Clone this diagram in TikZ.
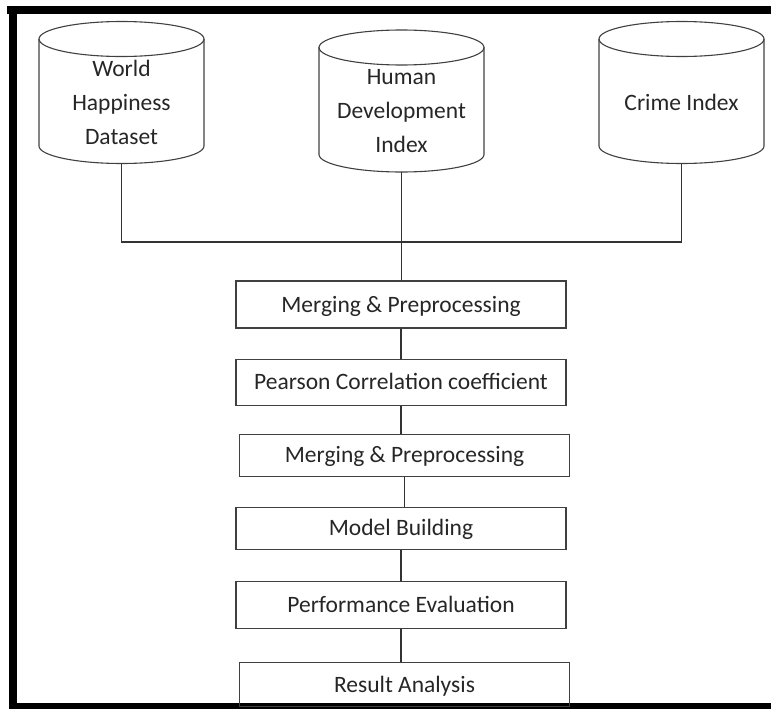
\documentclass[tikz,border=0pt]{standalone}
\usepackage{fontspec}
\setmainfont{Carlito}
\usepackage{tikz}
\usetikzlibrary{positioning}

\begin{document}
\begin{tikzpicture}[x=1pt,y=-1pt,
      dbline/.style={draw=black!75,line width=1.1pt},
      dbtext/.style={align=center,font=\fontsize{23.5}{34}\selectfont,text=black!85},
      stage/.style={rectangle,draw=black!75,line width=1.1pt,minimum width=330pt,inner sep=0pt,
        text height=15pt,text depth=0pt,font=\fontsize{23.5}{28}\selectfont,text=black!85},
      link/.style={draw=black!80,line width=1.1pt}]

      \useasboundingbox (0,0) rectangle (771,709);
      % frame
      \fill (7,6) rectangle (771,14);
      \fill (9,6) rectangle (17,709);
      \fill (9,703) rectangle (771,709);

      % data sources
      \foreach \n/\cx/\cy/\txt in {db1/121.5/92.5/{World\\Happiness\\Dataset},
                                   db2/401.5/101/{Human\\Development\\Index},
                                   db3/681.5/92.5/{Crime Index}} {
        \draw[dbline] (\cx,\cy-53.5) ellipse [x radius=82.5,y radius=17.5];
        \draw[dbline] (\cx-82.5,\cy-53.5) -- (\cx-82.5,\cy+53.5)
          arc [start angle=180,end angle=0,x radius=82.5,y radius=17.5] -- (\cx+82.5,\cy-53.5);
        \node[dbtext] (\n text) at (\cx,\cy+10) {\txt};
        \coordinate (\n) at (\cx,\cy+71);
      }

      % pipeline
      \node[stage,minimum height=47pt] (s1) at (401,304.5) {Merging \& Preprocessing};
      \node[stage,minimum height=46pt,below=30pt of s1] (s2) {Pearson Correlation coefficient};
      \node[stage,minimum height=42pt,below=28pt of s2,xshift=3.5pt] (s3) {Merging \& Preprocessing};
      \node[stage,minimum height=42pt,below=30pt of s3,xshift=-3.5pt] (s4) {Model Building};
      \node[stage,minimum height=47pt,below=31pt of s4] (s5) {Performance Evaluation};
      \node[stage,minimum height=44pt,below=33pt of s5,xshift=3.5pt] (s6) {Result Analysis};

      \coordinate (hub) at (401.5,242);
      \draw[link] (db1) -- (db1 |- hub) -- (db3 |- hub) -- (db3);
      \draw[link] (db2) -- (db2 |- s1.north);
      \foreach \a/\b in {s1/s2,s2/s3,s3/s4,s4/s5,s5/s6}
        \draw[link] (\a.south) -- (\a.south |- \b.north);
\end{tikzpicture}
\end{document}
